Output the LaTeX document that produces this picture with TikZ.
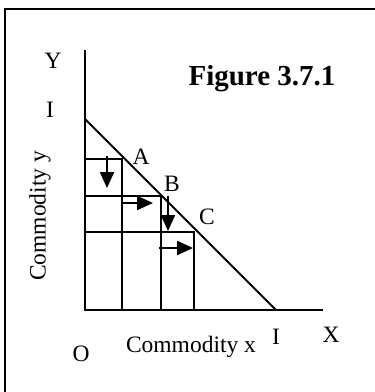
\documentclass[tikz,border=0pt]{standalone}
\usepackage{fontspec}
\setmainfont{Liberation Serif}
\usetikzlibrary{arrows.meta}
\begin{document}
\begin{tikzpicture}[x=1pt,y=-1pt,
  lbl/.style={font=\fontsize{23.5}{28}\selectfont, inner sep=0pt},
  ln/.style={line width=2pt},
  mv/.style={line width=2.2pt, -{Triangle[length=16pt,width=14pt]}}]
\useasboundingbox (0,0) rectangle (375,392);
% frame
\draw[line width=2.4pt] (380,9) -- (5,9) -- (5,400);
% axes
\coordinate (O) at (85,310);
\coordinate (Ytop) at (85,50);
\coordinate (Xend) at (323,310);
\coordinate (Iy) at (85,119);
\coordinate (Ix) at (276,310);
\draw[ln] (Ytop) -- (O) -- (Xend);
\draw[ln] (Iy) -- (Ix);
% boxes
\coordinate (a1) at (85,159); \coordinate (a2) at (122,310);
\coordinate (b1) at (85,196); \coordinate (b2) at (161,310);
\coordinate (c1) at (85,232); \coordinate (c2) at (194,310);
\draw[ln] (a1) -| (a2);
\draw[ln] (b1) -| (b2);
\draw[ln] (c1) -| (c2);
% moves
\coordinate (m1s) at (107,156); \coordinate (m1e) at (107,188);
\coordinate (m2s) at (122,203); \coordinate (m2e) at (153,203);
\coordinate (m3s) at (168,196); \coordinate (m3e) at (168,231);
\coordinate (m4s) at (159,248); \coordinate (m4e) at (193,248);
\draw[mv] (m1s) -- (m1e);
\draw[mv] (m2s) -- (m2e);
\draw[mv] (m3s) -- (m3e);
\draw[mv] (m4s) -- (m4e);
% labels
\node[lbl] (ly) at (53,61) {Y};
\node[lbl] (liy) at (50,110) {I};
\node[lbl] (la) at (141,157) {A};
\node[lbl] (lb) at (172,184) {B};
\node[lbl] (lc) at (207,217) {C};
\node[lbl] (lo) at (81,354) {O};
\node[lbl] (lcx) at (191,347) {Commodity x};
\node[lbl] (lix) at (276,337) {I};
\node[lbl] (lx) at (331,335) {X};
\node[lbl, rotate=90] (lcy) at (40,216) {Commodity y};
\node[inner sep=0pt, font=\fontsize{29}{34}\selectfont\bfseries] (title) at (262,79) {Figure 3.7.1};
\end{tikzpicture}
\end{document}
